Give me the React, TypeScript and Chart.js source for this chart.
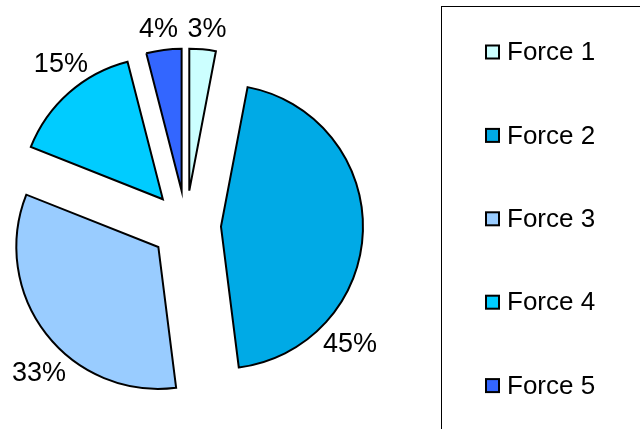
import { useEffect, useRef } from 'react';
import { Chart, registerables } from 'chart.js';

Chart.register(...registerables);

// ---- data ----
const categories = ['Force 1', 'Force 2', 'Force 3', 'Force 4', 'Force 5'];
const shares = [3, 45, 33, 15, 4];
const sliceColors = ['#CCFFFF', '#00AAE6', '#99CCFF', '#00CCFF', '#3366FF'];

// ---- styling ----
const FONT = '"Liberation Sans", Arial, sans-serif';
const EXPLODE = 35; // px each slice is pulled out along its mid angle
// label placement: angle (deg, clockwise from 12 o'clock) and distance as a fraction of the radius
const LABEL_ANGLES = [6.1, 125.6, 225.1, -37.6, -7.9];
const LABEL_DIST = [1.399, 1.42, 1.461, 1.444, 1.404];

const explodePlugin = {
  id: 'explode',
  beforeDatasetDraw(chart: any, args: any) {
    const ctx = chart.ctx;
    args.meta.data.forEach((arc: any) => {
      const mid = (arc.startAngle + arc.endAngle) / 2;
      ctx.save();
      ctx.translate(Math.cos(mid) * EXPLODE, Math.sin(mid) * EXPLODE);
      arc.draw(ctx);
      ctx.restore();
    });
    return false;
  },
};

const percentLabelPlugin = {
  id: 'percentLabels',
  afterDatasetsDraw(chart: any) {
    const ctx = chart.ctx;
    const meta = chart.getDatasetMeta(0);
    const values: number[] = chart.data.datasets[0].data;
    const total = values.reduce((a, b) => a + b, 0);
    ctx.save();
    ctx.font = `27px ${FONT}`;
    ctx.fillStyle = '#000';
    ctx.textAlign = 'center';
    ctx.textBaseline = 'middle';
    meta.data.forEach((arc: any, i: number) => {
      const a = (LABEL_ANGLES[i] * Math.PI) / 180;
      const d = arc.outerRadius * LABEL_DIST[i];
      const x = arc.x + Math.sin(a) * d;
      const y = arc.y - Math.cos(a) * d + 2;
      ctx.fillText(`${Math.round((values[i] / total) * 100)}%`, x, y);
    });
    ctx.restore();
  },
};

const boxedLegendPlugin = {
  id: 'boxedLegend',
  afterDraw(chart: any) {
    const ctx = chart.ctx;
    const labels: string[] = chart.data.labels;
    const bg: string[] = chart.data.datasets[0].backgroundColor;
    const boxX = 441.5;
    const boxY = 6.5;
    ctx.save();
    ctx.strokeStyle = '#000';
    ctx.lineWidth = 1;
    ctx.strokeRect(boxX, boxY, 400, 600);
    ctx.font = `26px ${FONT}`;
    ctx.textAlign = 'left';
    ctx.textBaseline = 'middle';
    const firstY = 52;
    const step = 83.4;
    labels.forEach((lab, i) => {
      const cy = firstY + i * step;
      ctx.fillStyle = bg[i];
      ctx.fillRect(486, cy - 6.5, 13, 13);
      ctx.lineWidth = 2;
      ctx.strokeStyle = '#000';
      ctx.strokeRect(486, cy - 6.5, 13, 13);
      ctx.fillStyle = '#000';
      ctx.fillText(lab, 507, cy + 1);
    });
    ctx.restore();
  },
};

export default function App() {
  const canvasRef = useRef<HTMLCanvasElement | null>(null);

  useEffect(() => {
    document.body.style.margin = '0';
    const canvas = canvasRef.current;
    if (!canvas) return;
    const chart = new Chart(canvas, {
      type: 'pie',
      data: {
        labels: categories,
        datasets: [
          {
            data: shares,
            backgroundColor: sliceColors,
            borderColor: '#000',
            borderWidth: 2,
            borderJoinStyle: 'miter',
          } as any,
        ],
      },
      options: {
        animation: false,
        responsive: false,
        devicePixelRatio: 1,
        radius: 142,
        layout: { padding: { left: 0, right: 268, top: 22, bottom: 0 } },
        plugins: {
          legend: { display: false },
          tooltip: { enabled: false },
        },
      } as any,
      plugins: [explodePlugin, percentLabelPlugin, boxedLegendPlugin],
    });
    return () => chart.destroy();
  }, []);

  return (
    <div style={{ width: 640, height: 429, background: '#fff' }}>
      <canvas ref={canvasRef} width={640} height={429} style={{ display: 'block' }} />
    </div>
  );
}
